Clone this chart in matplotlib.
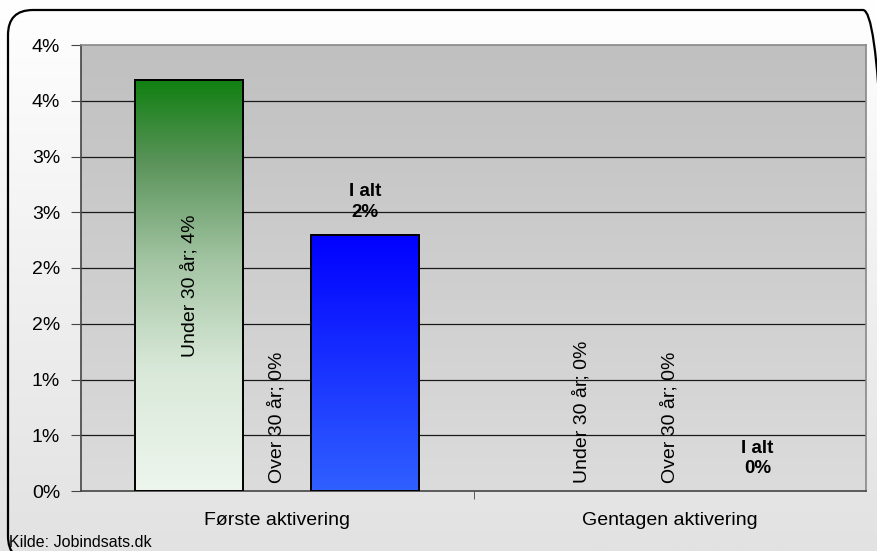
import numpy as np
import matplotlib
matplotlib.use("Agg")
import matplotlib.pyplot as plt
from matplotlib.colors import LinearSegmentedColormap
from matplotlib.patches import FancyBboxPatch

plt.rcParams['font.family'] = ['Liberation Sans', 'DejaVu Sans']

# data (percent)
categories = ["Første aktivering", "Gentagen aktivering"]
under30 = [3.69, 0.0]
over30 = [0.0, 0.0]
i_alt = [2.30, 0.0]
under_labels = ["Under 30 år; 4%", "Under 30 år; 0%"]
over_labels = ["Over 30 år; 0%", "Over 30 år; 0%"]
ialt_labels = ["I alt\n2%", "I alt\n0%"]
yticks = [0, 0.5, 1.0, 1.5, 2.0, 2.5, 3.0, 3.5, 4.0]
ytick_labels = ["0%", "1%", "1%", "2%", "2%", "3%", "3%", "4%", "4%"]

W, H = 877, 551
fig = plt.figure(figsize=(W / 100, H / 100), dpi=100)

# figure background: gradient + rounded frame (in pixel units, y up)
bg = fig.add_axes([0, 0, 1, 1], zorder=-10)
grad = np.linspace(0, 1, 256).reshape(-1, 1)
bg_cmap = LinearSegmentedColormap.from_list("bg", ["#ffffff", "#e2e2e2"])
bg.imshow(grad, extent=[0, W, 0, H], aspect='auto', cmap=bg_cmap, origin='upper')
# frame: left 8px, top 10px from the top, runs off the right and bottom edges
frame = FancyBboxPatch((8, -10), 880, H, boxstyle="round,pad=0,rounding_size=25",
                       fc="none", ec="black", lw=1.6)
bg.add_patch(frame)
bg.set_autoscale_on(False)
bg.set_xlim(0, W)
bg.set_ylim(0, H)
bg.axis('off')

ax = fig.add_axes([81 / W, 1 - 491 / H, 785 / W, 446 / H])

# plot area gradient
pa_cmap = LinearSegmentedColormap.from_list("pa", ["#dcdcdc", "#c0c0c0"])
ax.imshow(grad, extent=[-0.5, 1.5, 0, 4.0], aspect='auto', cmap=pa_cmap,
          origin='lower', zorder=0)

for y in yticks[1:-1]:
    ax.axhline(y, color="#1a1a1a", lw=0.9, zorder=1)

x = np.arange(len(categories))
width = 0.275
off = 0.224

green_cmap = LinearSegmentedColormap.from_list(
    "g", [(0, "#eef6ee"), (0.3, "#d8e8d8"), (0.55, "#a5c6a5"), (0.8, "#5a935a"), (1, "#108010")])
blue_cmap = LinearSegmentedColormap.from_list("b", ["#3060ff", "#0000ff"])

b1 = ax.bar(x - off, under30, width, facecolor="none", edgecolor="black", lw=1.4, zorder=3)
b2 = ax.bar(x, over30, width, facecolor="none", edgecolor="none", zorder=3)
b3 = ax.bar(x + off, i_alt, width, facecolor="none", edgecolor="black", lw=1.4, zorder=3)

for bars, cm in [(b1, green_cmap), (b3, blue_cmap)]:
    for p in bars:
        if p.get_height() > 0:
            ax.imshow(grad, extent=[p.get_x(), p.get_x() + p.get_width(), 0, p.get_height()],
                      aspect='auto', cmap=cm, origin='lower', zorder=2)
        else:
            p.set_edgecolor("none")

ax.set_xlim(-0.5, 1.5)
ax.set_ylim(0, 4.0)

# data labels
lab_fs = 14
for i in range(len(categories)):
    if under30[i] > 0:
        ax.text(x[i] - off, under30[i] / 2, under_labels[i], rotation=90,
                ha='center', va='center', fontsize=lab_fs, zorder=4)
    else:
        ax.annotate(under_labels[i], (x[i] - off, under30[i]), xytext=(0, 6),
                    textcoords='offset points', rotation=90, ha='center', va='bottom',
                    fontsize=lab_fs, zorder=4)
    ax.annotate(over_labels[i], (x[i], over30[i]), xytext=(0, 6),
                textcoords='offset points', rotation=90, ha='center', va='bottom',
                fontsize=lab_fs, zorder=4)
    ax.annotate(ialt_labels[i], (x[i] + off, i_alt[i]), xytext=(0, 10),
                textcoords='offset points', ha='center', va='bottom',
                fontsize=13.5, fontweight='bold', linespacing=1.25, zorder=4)

ax.set_yticks(yticks)
ax.set_yticklabels(ytick_labels, fontsize=14)
ax.set_xticks(x)
ax.set_xticklabels(categories, fontsize=14)
ax.set_xticks([0.5], minor=True)
ax.tick_params(axis='x', which='major', length=0, pad=15)
ax.tick_params(axis='x', which='minor', length=6, color="#444444")
ax.tick_params(axis='y', length=7, color="#444444", pad=8)

for s in ["left", "bottom"]:
    ax.spines[s].set_color("#444444")
    ax.spines[s].set_linewidth(1.2)
for s in ["top", "right"]:
    ax.spines[s].set_color("#888888")
    ax.spines[s].set_linewidth(1.2)

fig.text(9 / W, 1 - 547 / H, "Kilde: Jobindsats.dk", fontsize=11.5, ha='left', va='baseline')

fig.savefig("out.png", dpi=100)
